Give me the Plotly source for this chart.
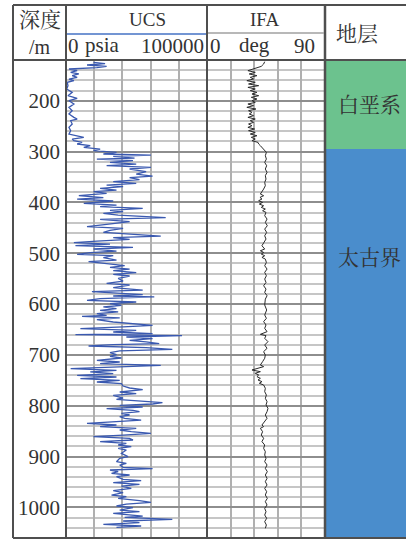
import plotly.graph_objects as go

W, H = 406, 540

# UCS log: depth (m) and unconfined compressive strength (psia)
ucs_depth = [
    124.6, 127.2, 129.8, 132.5, 135.1, 137.7, 141.0, 144.3, 147.5, 150.8,
    154.1, 157.4, 160.7, 163.9, 170.5, 177.0, 183.6, 190.2, 195.4, 200.0,
    206.6, 213.1, 219.7, 226.2, 232.8, 236.1, 239.3, 245.9, 252.5, 259.0,
    265.6, 272.1, 275.4, 278.7, 282.0, 285.2, 288.5, 291.8, 295.1, 298.4,
    301.6, 304.9, 306.9, 309.5, 312.8, 314.8, 318.0, 321.3, 324.6, 327.9,
    331.1, 334.4, 339.7, 344.3,
    348.2, 351.4, 355.4, 359.3, 362.6, 365.9, 369.1, 372.4, 375.7, 379.0,
    382.3, 386.8, 390.8, 393.4, 397.3, 401.9, 405.2, 408.5, 411.8, 415.7,
    418.3, 421.6, 424.9, 430.1, 433.4, 438.0, 443.2, 447.8, 451.1, 455.0,
    458.9, 462.9, 466.2, 469.4, 472.7, 476.0, 479.3, 481.9, 485.2, 488.4,
    491.7, 495.7, 498.9, 502.2, 504.8, 508.8, 513.4, 516.6, 519.9, 524.5,
    527.8, 531.1, 534.3, 538.3, 541.5, 544.8, 549.4, 554.7, 559.3, 562.5,
    567.8, 572.4, 575.6, 578.9,
    581.4, 584.1, 586.0, 589.3, 592.6, 595.9, 599.1, 602.4, 605.7, 609.0,
    612.3, 615.5, 618.8, 622.1, 624.1, 627.3, 630.6, 635.2, 638.5, 641.8,
    645.0, 648.3, 651.6, 654.9, 658.1, 660.1, 662.1, 664.7, 668.0, 671.3,
    674.5, 677.8, 679.8, 682.4, 685.7, 689.0, 692.2, 695.5, 699.4, 702.7,
    706.0, 710.6, 713.9, 717.1, 720.4, 723.7, 727.0, 730.2, 733.5, 736.8,
    740.1, 743.4, 746.6, 749.9, 753.2, 756.5, 761.1, 765.0, 768.3, 772.9,
    776.1, 779.4, 784.7, 787.3, 791.2, 793.8, 796.5, 799.1, 802.4, 805.6,
    808.9,
    811.6, 814.9, 818.1, 821.4, 824.7, 828.0, 831.2, 834.5, 837.8, 841.1,
    844.4, 847.6, 850.9, 854.2, 857.5, 860.7, 864.0, 867.3, 870.6, 873.9,
    877.1, 880.4, 883.7, 887.0, 893.5, 900.1, 903.4, 909.9, 913.2, 916.5,
    921.0, 923.7, 926.3, 929.6, 932.8, 936.1, 939.4, 944.6, 947.3, 951.2,
    954.5, 957.8, 962.3, 966.9, 970.9, 975.5, 978.7, 982.0, 986.6, 989.9,
    993.2, 997.1, 1000.4, 1005.0, 1008.2, 1011.5, 1016.8, 1019.4, 1023.3, 1026.6,
    1029.9, 1033.2, 1036.4, 1039.0,
]
ucs_psia = [
    19500, 27700, 14900, 28800, 21900, 2100, 7900, 3300, 9100, 4400,
    7900, 2100, 5600, 900, 1400, 500, 4400, 1400, 7900, 2100,
    5600, 2100, 4400, 2100, 5600, 7900, 3300, 4400, 2100, 3300,
    2100, 12600, 4400, 5600, 11400, 7900, 17200, 12600, 24200, 19500,
    35800, 26500, 60200, 33500, 48600, 21900, 47500, 31200, 49800, 28800,
    60200, 45100, 56800, 49800,
    61400, 45100, 52100, 33500, 49800, 28800, 40500, 24200, 35800, 19500,
    28800, 9100, 26500, 7900, 33500, 12600, 35800, 24200, 54400, 31200,
    40500, 26500, 37000, 70700, 24200, 45100, 28800, 14900, 40500, 31200,
    26500, 45100, 67200, 33500, 45100, 21900, 5600, 31200, 6700, 47500,
    19500, 35800, 17200, 7900, 33500, 26500, 35800, 16000, 28800, 41600,
    31200, 45100, 33500, 49800, 33500, 45100, 37000, 40500, 28800, 45100,
    33500, 54400, 18400, 45100,
    54400, 33500, 62600, 24200, 14900, 49800, 31200, 39300, 26500, 35800,
    24200, 37000, 21900, 28800, 11400, 38100, 21900, 33500, 45100, 61400,
    40500, 10200, 49800, 33500, 61400, 6700, 82300, 42800, 61400, 45100,
    56800, 66100, 33500, 16000, 56800, 75400, 38100, 31200, 35800, 31200,
    39300, 21900, 38100, 24200, 67200, 35800, 3300, 35800, 17200, 33500,
    7900, 35800, 10200, 38100, 21900, 39300, 40500, 45100, 54400, 38100,
    49800, 33500, 40500, 35800, 54400, 68400, 61400, 38100, 54400, 28800,
    47500,
    52100, 39300, 45100, 38100, 41600, 53300, 35800, 14900, 35800, 24200,
    49800, 38100, 46300, 60200, 40500, 19500, 45100, 47500, 24200, 42800,
    37000, 46300, 37000, 42800, 39300, 44000, 38100, 35800, 42800, 38100,
    40500, 61400, 31200, 37000, 32300, 45100, 35800, 40500, 53300, 33500,
    52100, 39300, 46300, 33500, 40500, 32300, 42800, 37000, 52100, 60200,
    42800, 35800, 47500, 38100, 52100, 33500, 54400, 41600, 75400, 40500,
    52100, 26500, 53300, 35800,
]

# IFA log: depth (m) and internal friction angle (deg)
ifa_depth = [
    123.3, 127.9, 132.5, 137.7, 141.0, 144.3, 147.5, 150.8, 154.1, 157.4,
    160.7, 163.9, 167.2, 170.5, 173.8, 177.0, 180.3, 183.6, 186.9, 190.2,
    193.4, 196.7, 200.0, 203.3, 206.6, 209.8, 213.1, 216.4, 219.7, 223.0,
    226.2, 229.5, 232.8, 236.1, 239.3, 242.6, 245.9, 249.2, 252.5, 255.7,
    259.0, 262.3, 265.6, 268.9, 272.1, 275.4, 278.7, 282.0, 285.2, 288.5,
    291.8, 295.1, 298.4, 301.6, 308.2, 314.8, 321.3, 327.9, 334.4, 341.0,
    347.5, 354.1, 360.7, 367.2, 373.8, 380.3, 383.6, 386.9, 390.2, 393.4,
    396.7, 400.0, 403.3, 406.6, 409.8, 413.1, 416.4, 419.7, 426.2, 432.8,
    439.3, 445.9, 452.5, 459.0, 465.6, 472.1, 478.7, 485.2, 491.8, 495.1,
    498.4, 501.6, 504.9, 508.2, 511.5, 518.0, 524.6, 531.1, 537.7, 544.3,
    550.8, 557.4, 563.9, 570.5, 577.0, 583.6, 590.2,
    601.8, 611.6, 621.4, 628.0, 634.5, 641.1, 647.7, 654.2, 659.5, 662.1,
    667.3, 673.9, 680.4, 687.0, 693.5, 700.1, 706.6, 713.2, 719.8, 723.0,
    726.3, 729.6, 732.9, 736.1, 739.4, 742.7, 746.0, 749.3, 752.5, 755.8,
    759.1, 765.6, 772.2, 778.8, 785.3, 791.9, 798.4, 805.0, 811.5, 818.1,
    824.6, 831.2, 837.8, 841.0, 844.3, 850.9, 857.4, 864.0, 870.5, 877.1,
    883.6, 890.2, 896.8, 903.3, 909.9, 916.4, 923.0, 929.5, 936.1, 942.6,
    949.2, 955.8, 962.3, 968.9, 975.4, 982.0, 988.5, 995.1, 1001.6, 1008.2,
    1014.7, 1021.3, 1027.9, 1034.4, 1041.0,
]
ifa_deg = [
    44.0, 43.2, 41.4, 34.3, 31.2, 36.8, 32.2, 38.1, 33.0, 35.5,
    30.4, 36.8, 31.7, 39.4, 31.2, 36.8, 33.0, 38.1, 34.3, 39.4,
    33.8, 38.1, 34.3, 36.8, 31.2, 35.5, 30.4, 37.3, 31.7, 34.3,
    32.2, 35.5, 31.2, 36.8, 33.0, 35.5, 31.7, 34.3, 31.2, 36.3,
    31.7, 36.8, 33.0, 38.1, 33.8, 36.8, 34.3, 38.9, 39.4, 40.7,
    41.9, 43.2, 44.5, 45.3, 44.5, 45.3, 44.0, 45.5, 44.5, 45.8,
    44.5, 45.0, 44.0, 44.5, 43.2, 41.9, 40.7, 43.2, 40.4, 41.9,
    39.4, 42.4, 39.9, 43.2, 41.4, 44.5, 42.4, 45.0, 44.0, 45.8,
    44.5, 46.0, 44.0, 45.5, 44.0, 45.0, 43.2, 41.9, 44.0, 40.7,
    43.2, 41.4, 44.0, 41.9, 44.5, 45.3, 44.0, 45.8, 44.0, 45.3,
    44.0, 45.0, 43.2, 45.0, 44.0, 45.8, 44.5,
    44.0, 45.5, 44.0, 45.3, 43.2, 45.0, 44.0, 45.8, 40.7, 45.0,
    44.0, 46.5, 44.0, 45.8, 43.2, 44.5, 44.0, 42.4, 40.7, 43.2,
    38.1, 34.3, 40.7, 36.8, 39.4, 38.1, 40.7, 38.9, 41.9, 39.9,
    43.2, 44.5, 44.0, 45.3, 44.5, 45.8, 45.0, 46.5, 45.8, 44.5,
    45.8, 44.0, 41.9, 43.2, 40.7, 42.4, 41.4, 43.2, 41.9, 44.0,
    43.2, 44.5, 44.0, 45.0, 44.0, 45.8, 44.5, 46.0, 44.5, 45.8,
    44.5, 45.8, 44.0, 45.5, 44.5, 46.0, 44.5, 45.8, 44.0, 45.0,
    44.0, 45.5, 44.0, 45.3, 44.5,
]

# Stratigraphy column
strata_names = ["白垩系", "太古界"]
strata_top = [120, 295]
strata_bottom = [295, 1060]
strata_colors = ["#6cc28e", "#4a8dcc"]
strata_label_depth = [205, 505]

depth_range = [1060, 120]
ucs_range = [0, 100000]
ifa_range = [0, 90]

CJK = "Noto Serif CJK SC"
SERIF = "Liberation Serif"
TXT = "#333333"
FRAME = "#4f4f4f"
MAJOR_GRID = "#8e8e8e"
MINOR_GRID = "#c6c6c6"
VGRID = "#b0b0b0"


def px(x):
    return x / W


def py(y):
    return 1 - y / H


fig = go.Figure()

fig.add_trace(go.Scatter(
    x=ucs_psia, y=ucs_depth, mode="lines",
    line=dict(color="#3a59b0", width=1.3),
    xaxis="x", yaxis="y", hoverinfo="skip", showlegend=False,
))
fig.add_trace(go.Scatter(
    x=ifa_deg, y=ifa_depth, mode="lines",
    line=dict(color="#2b2b2b", width=1),
    xaxis="x2", yaxis="y2", hoverinfo="skip", showlegend=False,
))
for name, top, bot, col in zip(strata_names, strata_top, strata_bottom, strata_colors):
    fig.add_trace(go.Bar(
        x=[0], y=[bot - top], base=[top], width=[1],
        marker=dict(color=col, line=dict(width=0)),
        xaxis="x3", yaxis="y3", hoverinfo="skip", showlegend=False, name=name,
    ))

ydom = [py(538), py(60)]
common_y = dict(
    domain=ydom, range=depth_range, autorange=False,
    tickmode="linear", tick0=0, dtick=100,
    showgrid=True, gridcolor=MAJOR_GRID, gridwidth=2,
    minor=dict(tickmode="linear", tick0=0, dtick=20, showgrid=True,
               gridcolor=MINOR_GRID, gridwidth=2),
    zeroline=False, showline=False, ticks="",
)

fig.update_layout(
    width=W, height=H,
    margin=dict(l=0, r=0, t=0, b=0),
    font=dict(family=SERIF, size=21, color=TXT),
    paper_bgcolor="white", plot_bgcolor="white",
    barmode="overlay", bargap=0,
    showlegend=False,
    xaxis=dict(domain=[px(66), px(207)], range=ucs_range, anchor="y",
               tickmode="linear", tick0=0, dtick=20000,
               showgrid=True, gridcolor=VGRID, gridwidth=2,
               showticklabels=False, zeroline=False, ticks=""),
    yaxis=dict(anchor="x", showticklabels=True,
               tickfont=dict(family=SERIF, size=21, color=TXT),
               ticklabelstandoff=5, **common_y),
    xaxis2=dict(domain=[px(207), px(325)], range=ifa_range, anchor="y2",
                tickmode="linear", tick0=0, dtick=18,
                showgrid=True, gridcolor=VGRID, gridwidth=2,
                showticklabels=False, zeroline=False, ticks=""),
    yaxis2=dict(anchor="x2", showticklabels=False, **common_y),
    xaxis3=dict(domain=[px(325), 1], range=[-0.5, 0.5], anchor="y3", visible=False),
    yaxis3=dict(domain=ydom, range=depth_range, autorange=False, anchor="x3", visible=False),
)

# Table frame
shapes = []


def hline(y, x0, x1, color=FRAME, width=2):
    shapes.append(dict(type="line", xref="paper", yref="paper",
                       x0=px(x0), x1=px(x1), y0=py(y), y1=py(y),
                       line=dict(color=color, width=width), layer="above"))


def vline(x, y0, y1, color=FRAME, width=2):
    shapes.append(dict(type="line", xref="paper", yref="paper",
                       x0=px(x), x1=px(x), y0=py(y0), y1=py(y1),
                       line=dict(color=color, width=width), layer="above"))


hline(5, 13, 406)
hline(60, 13, 406)
hline(538, 13, 406)
vline(13, 5, 538)
vline(66, 5, 538)
vline(207, 5, 538)
vline(325, 5, 538, width=2.5)
hline(34, 67, 206, color="#4472c4", width=1.5)
hline(33, 208, 324, color="#a0a0a0", width=1.5)
fig.update_layout(shapes=shapes)

annotations = []


def label(text, x, y, family, size, xanchor="center"):
    annotations.append(dict(text=text, x=px(x), y=py(y), xref="paper", yref="paper",
                            xanchor=xanchor, yanchor="middle", showarrow=False,
                            font=dict(family=family, size=size, color=TXT)))


label("深度", 40, 18, CJK, 21)
label("/m", 40, 47, SERIF, 20)
label("UCS", 147, 20, SERIF, 19)
label("0", 66, 46, SERIF, 21, xanchor="left")
label("psia", 102, 45, SERIF, 21)
label("100000", 206, 46, SERIF, 21, xanchor="right")
label("IFA", 264, 20, SERIF, 19)
label("0", 208, 46, SERIF, 21, xanchor="left")
label("deg", 255, 45, SERIF, 21)
label("90", 317, 46, SERIF, 21, xanchor="right")
label("地层", 357, 32, CJK, 21)

for name, d in zip(strata_names, strata_label_depth):
    annotations.append(dict(text=name, x=px(369), y=d, xref="paper", yref="y3",
                            xanchor="center", yanchor="middle", showarrow=False,
                            font=dict(family=CJK, size=21, color=TXT)))

fig.update_layout(annotations=annotations)

fig.write_html("out.html")
